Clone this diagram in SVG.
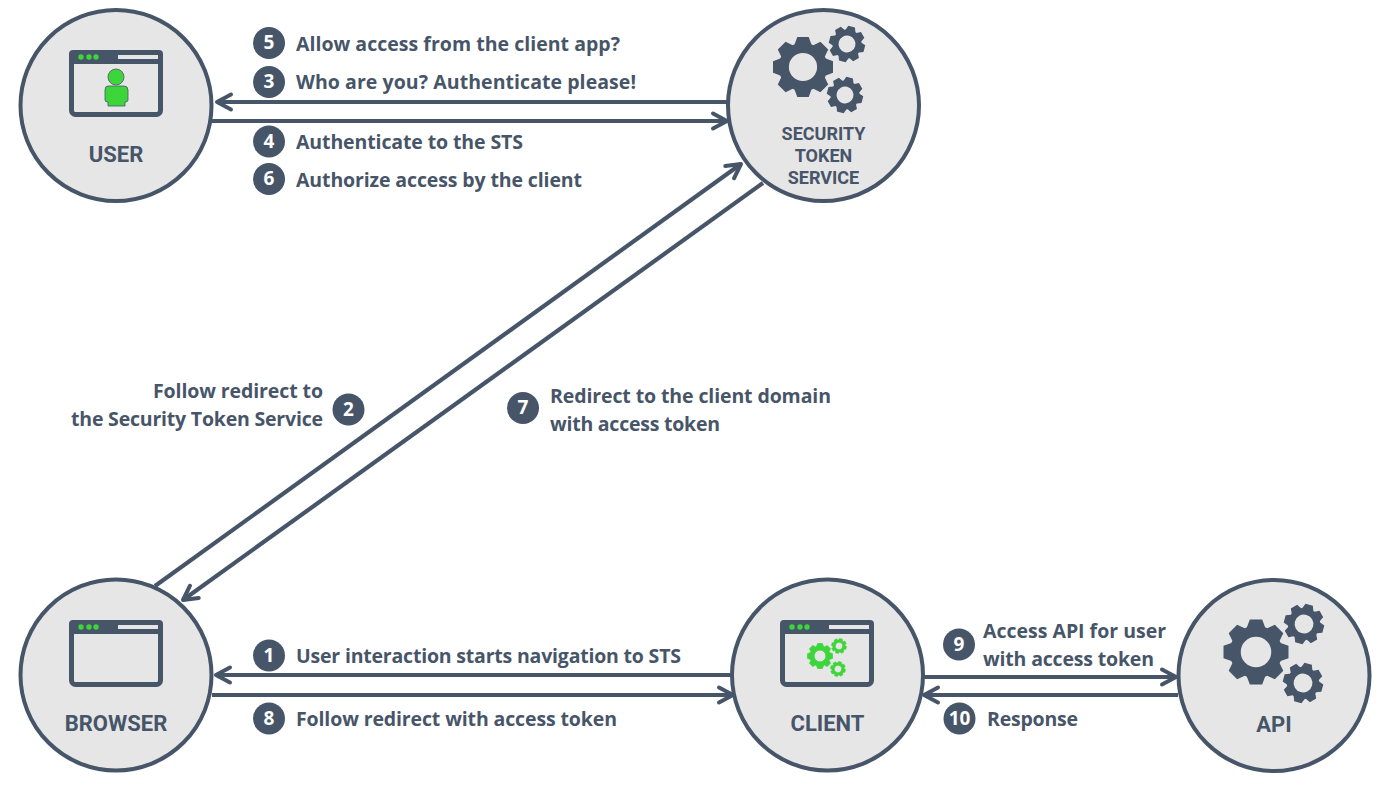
<svg xmlns="http://www.w3.org/2000/svg" width="1400" height="788" viewBox="0 0 1400 788">
<style>
.node{fill:#e6e6e6;stroke:#475569;stroke-width:4}
.name{font-family:"Roboto","Liberation Sans",sans-serif;font-weight:700;font-size:22px;fill:#475569;text-anchor:middle}
.small{font-size:18px}
.lab{font-family:"Open Sans","Liberation Sans",sans-serif;font-weight:700;font-size:19.5px;fill:#475569}
.badge{fill:#475569}
.num{font-family:"Open Sans","Liberation Sans",sans-serif;font-weight:700;font-size:19px;fill:#fff;text-anchor:middle}
.conn{fill:none;stroke:#475569;stroke-width:4.2}
.win{fill:none;stroke:#475569;stroke-width:5}
.dot{fill:#3dd63a}
.gd{fill:#475569;fill-rule:evenodd}
.gg{fill:#3dd63a;fill-rule:evenodd;stroke:#3dd63a;stroke-width:6}
</style>
<defs>
<marker id="arr" markerUnits="userSpaceOnUse" markerWidth="24" markerHeight="24" refX="19" refY="12" orient="auto" overflow="visible">
<path d="M5,4.5 L19,12 L5,19.5" fill="none" stroke="#475569" stroke-width="4" stroke-linecap="round" stroke-linejoin="round"/>
</marker>
<path id="gear" d="M-28,-76L-19,-100L19,-100L28,-76L34.6,-72.8L58,-84L84,-58L72.8,-34.6L76,-28L100,-19L100,19L76,28L72.8,34.6L84,58L58,84L34.6,72.8L28,76L19,100L-19,100L-28,76L-34.6,72.8L-58,84L-84,58L-72.8,34.6L-76,28L-100,19L-100,-19L-76,-28L-72.8,-34.6L-84,-58L-58,-84L-34.6,-72.8ZM47,0A47,47 0 1 0 -47,0A47,47 0 1 0 47,0Z"/>
<g id="window">
<rect x="2.5" y="2.5" width="89" height="62" rx="4" class="win"/>
<rect x="0" y="0" width="94" height="14" rx="4" fill="#475569"/>
<circle cx="12" cy="7" r="2.7" class="dot"/><circle cx="20" cy="7" r="2.7" class="dot"/><circle cx="27" cy="7" r="2.7" class="dot"/>
<rect x="49" y="5" width="40" height="4" fill="#e6e6e6"/>
</g>
</defs>
<g id="connectors">
<path class="conn" marker-end="url(#arr)" d="M727,102H217"/>
<path class="conn" marker-end="url(#arr)" d="M212,121H727"/>
<path class="conn" marker-end="url(#arr)" d="M155,586L741,164"/>
<path class="conn" marker-end="url(#arr)" d="M763,183L183,600"/>
<path class="conn" marker-end="url(#arr)" d="M732,675H216"/>
<path class="conn" marker-end="url(#arr)" d="M212,695H733"/>
<path class="conn" marker-end="url(#arr)" d="M922,677H1176"/>
<path class="conn" marker-end="url(#arr)" d="M1178,695H924"/>
</g>
<g id="user">
<circle class="node" cx="116" cy="105.500" r="95.500"/>
<use href="#window" x="69" y="50"/>
<circle cx="116" cy="77" r="8" fill="#3dd63a" stroke="#475569" stroke-width="0.8"/>
<path d="M108,86H124Q128,86 128,90V100Q128,102 125,102V106H108V102Q105,102 105,100V90Q105,86 108,86Z" fill="#3dd63a" stroke="#475569" stroke-width="0.8"/>
<text class="name" x="116" y="162">USER</text>
</g>
<g id="sts">
<circle class="node" cx="823.500" cy="105.500" r="95.500"/>
<use href="#gear" class="gd" transform="translate(803,67) scale(.3)"/>
<use href="#gear" class="gd" transform="translate(847,44) rotate(15) scale(.18)"/>
<use href="#gear" class="gd" transform="translate(845,95) rotate(15) scale(.18)"/>
<text class="name small" x="823.500" y="139.500">SECURITY</text>
<text class="name small" x="823.500" y="161.500">TOKEN</text>
<text class="name small" x="823.500" y="183.500">SERVICE</text>
</g>
<g id="browser">
<circle class="node" cx="116" cy="675" r="95.500"/>
<use href="#window" x="69" y="620"/>
<text class="name" x="116" y="731">BROWSER</text>
</g>
<g id="client">
<circle class="node" cx="827.500" cy="675" r="95.500"/>
<use href="#window" x="780" y="620"/>
<use href="#gear" class="gg" transform="translate(820,656) scale(.125)"/>
<use href="#gear" class="gg" transform="translate(839,646) rotate(15) scale(.075)"/>
<use href="#gear" class="gg" transform="translate(838,669) rotate(15) scale(.075)"/>
<text class="name" x="827.500" y="731">CLIENT</text>
</g>
<g id="api">
<circle class="node" cx="1274" cy="675.500" r="95.500"/>
<use href="#gear" class="gd" transform="translate(1256,652) scale(.325)"/>
<use href="#gear" class="gd" transform="translate(1304,624) rotate(15) scale(.2)"/>
<use href="#gear" class="gd" transform="translate(1303,683) rotate(15) scale(.2)"/>
<text class="name" x="1274" y="732">API</text>
</g>
<g id="labels">
<circle class="badge" cx="269" cy="43" r="16"/><text class="num" x="269" y="49">5</text>
<text class="lab" x="296" y="51" textLength="324">Allow access from the client app?</text>
<circle class="badge" cx="269" cy="82" r="16"/><text class="num" x="269" y="88">3</text>
<text class="lab" x="296" y="89" textLength="340">Who are you? Authenticate please!</text>
<circle class="badge" cx="269" cy="141.500" r="16"/><text class="num" x="269" y="147.500">4</text>
<text class="lab" x="296" y="149" textLength="227">Authenticate to the STS</text>
<circle class="badge" cx="269" cy="179" r="16"/><text class="num" x="269" y="185">6</text>
<text class="lab" x="296" y="187" textLength="286">Authorize access by the client</text>
<circle class="badge" cx="348.500" cy="409.500" r="16"/><text class="num" x="348.500" y="415.500">2</text>
<text class="lab" x="153" y="398" textLength="170">Follow redirect to</text>
<text class="lab" x="71" y="426" textLength="252">the Security Token Service</text>
<circle class="badge" cx="523" cy="408" r="16"/><text class="num" x="523" y="414">7</text>
<text class="lab" x="550" y="403" textLength="281">Redirect to the client domain</text>
<text class="lab" x="550" y="431" textLength="170">with access token</text>
<circle class="badge" cx="269" cy="655.500" r="16"/><text class="num" x="269" y="661.500">1</text>
<text class="lab" x="296" y="663" textLength="385">User interaction starts navigation to STS</text>
<circle class="badge" cx="269" cy="718.500" r="16"/><text class="num" x="269" y="724.500">8</text>
<text class="lab" x="296" y="726" textLength="321">Follow redirect with access token</text>
<circle class="badge" cx="959" cy="644.500" r="16"/><text class="num" x="959" y="650.500">9</text>
<text class="lab" x="983" y="638" textLength="183">Access API for user</text>
<text class="lab" x="983" y="666" textLength="171">with access token</text>
<circle class="badge" cx="959.500" cy="718.500" r="16"/><text class="num" x="959.500" y="724.500">10</text>
<text class="lab" x="987" y="726" textLength="91">Response</text>
</g>
</svg>
